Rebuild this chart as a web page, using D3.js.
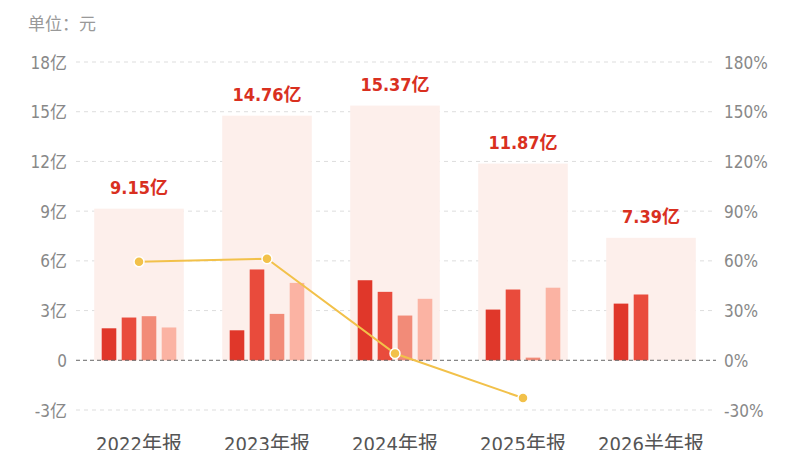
<!DOCTYPE html>
<html>
<head>
<meta charset="utf-8">
<script src="https://cdn.jsdelivr.net/npm/d3@7"></script>
<style>
  html, body { margin: 0; padding: 0; background: #fff; }
  svg { display: block; }
  text { font-family: "Liberation Sans Narrow", "DejaVu Sans Condensed", "Noto Sans CJK SC", sans-serif; font-stretch: condensed; }
</style>
</head>
<body>
<svg width="800" height="450"></svg>
<script>
// report periods
var periods = ["2022年报", "2023年报", "2024年报", "2025年报", "2026半年报"];
// yearly totals (亿)
var totals = [9.15, 14.76, 15.37, 11.87, 7.39];
// quarterly values (亿), one array per quarter
var q1 = [1.93, 1.81, 4.83, 3.06, 3.42];
var q2 = [2.58, 5.48, 4.13, 4.27, 3.97];
var q3 = [2.66, 2.80, 2.70, 0.16, null];
var q4 = [1.98, 4.67, 3.71, 4.38, null];
// year-on-year growth (%)
var growth = [59.4, 61.3, 4.1, -22.8, null];

var leftTicks = [-3, 0, 3, 6, 9, 12, 15, 18];
var rightTicks = [-30, 0, 30, 60, 90, 120, 150, 180];

var quarters = [q1, q2, q3, q4];
var qColors = ["#e0372a", "#e94b3c", "#f28b78", "#fbb3a3"];

var svg = d3.select("svg");

var x = d3.scaleBand().domain(periods).range([75, 715])
    .paddingInner(0.3).paddingOuter(0.15);
var xq = d3.scaleBand().domain([0, 1, 2, 3]).range([7.5, x.bandwidth() - 7.5])
    .paddingInner(0.27);
var y = d3.scaleLinear().domain([-3, 18]).range([410, 62]);
var y2 = d3.scaleLinear().domain([-30, 180]).range([410, 62]);

// unit label
svg.append("text").attr("x", 28).attr("y", 30)
    .attr("fill", "#999").attr("font-size", 17).text("单位：元");

// grid lines
svg.append("g").selectAll("line").data(leftTicks.filter(function(d){ return d !== 0; }))
  .enter().append("line")
    .attr("x1", 76).attr("x2", 716)
    .attr("y1", function(d){ return y(d); }).attr("y2", function(d){ return y(d); })
    .attr("stroke", "#ddd").attr("stroke-dasharray", "4,4");

// left axis
var yAxis = d3.axisLeft(y).tickValues(leftTicks).tickSize(0).tickPadding(0)
    .tickFormat(function(d){ return d === 0 ? "0" : d + "亿"; });
var ga = svg.append("g").attr("transform", "translate(67,0)").call(yAxis);
ga.select(".domain").remove();
ga.selectAll("text").attr("font-size", 17).attr("fill", "#888")
    .attr("font-family", null).attr("dy", "0.36em");

// right axis
var yAxis2 = d3.axisRight(y2).tickValues(rightTicks).tickSize(0).tickPadding(0)
    .tickFormat(function(d){ return d + "%"; });
var gb = svg.append("g").attr("transform", "translate(724,0)").call(yAxis2);
gb.select(".domain").remove();
gb.selectAll("text").attr("font-size", 17).attr("fill", "#888")
    .attr("font-family", null).attr("dy", "0.36em");

// background total bars
svg.append("g").selectAll("rect").data(periods).enter().append("rect")
    .attr("x", function(d){ return x(d); })
    .attr("width", x.bandwidth())
    .attr("y", function(d, i){ return y(totals[i]); })
    .attr("height", function(d, i){ return y(0) - y(totals[i]); })
    .attr("fill", "#fdefeb");

// quarterly bars
quarters.forEach(function(arr, qi) {
  svg.append("g").selectAll("rect")
    .data(periods.filter(function(d, i){ return arr[i] != null; }))
    .enter().append("rect")
      .attr("x", function(d){ return x(d) + xq(qi); })
      .attr("width", xq.bandwidth())
      .attr("y", function(d){ return y(arr[periods.indexOf(d)]); })
      .attr("height", function(d){ return y(0) - y(arr[periods.indexOf(d)]); })
      .attr("fill", qColors[qi]);
});

// zero line
svg.append("line").attr("x1", 76).attr("x2", 716)
    .attr("y1", y(0)).attr("y2", y(0))
    .attr("stroke", "#666").attr("stroke-dasharray", "4,3");

// total labels
svg.append("g").selectAll("text").data(periods).enter().append("text")
    .attr("x", function(d){ return x(d) + x.bandwidth() / 2; })
    .attr("y", function(d, i){ return y(totals[i]) - 15; })
    .attr("text-anchor", "middle")
    .attr("font-size", 18).attr("font-weight", "bold").attr("fill", "#d9301f")
    .text(function(d, i){ return totals[i].toFixed(2) + "亿"; });

// growth line
var pts = periods.map(function(d, i){ return {p: d, v: growth[i]}; })
    .filter(function(d){ return d.v != null; });
var line = d3.line()
    .x(function(d){ return x(d.p) + x.bandwidth() / 2; })
    .y(function(d){ return y2(d.v); });
svg.append("path").datum(pts).attr("d", line)
    .attr("fill", "none").attr("stroke", "#f2c14a").attr("stroke-width", 2);
svg.append("g").selectAll("circle").data(pts).enter().append("circle")
    .attr("cx", function(d){ return x(d.p) + x.bandwidth() / 2; })
    .attr("cy", function(d){ return y2(d.v); })
    .attr("r", 5).attr("fill", "#f2c14a")
    .attr("stroke", "#fff").attr("stroke-width", 1.5);

// x labels
svg.append("g").selectAll("text").data(periods).enter().append("text")
    .attr("x", function(d){ return x(d) + x.bandwidth() / 2; })
    .attr("y", 451)
    .attr("text-anchor", "middle")
    .attr("font-size", 20).attr("fill", "#555")
    .text(function(d){ return d; });
</script>
</body>
</html>
